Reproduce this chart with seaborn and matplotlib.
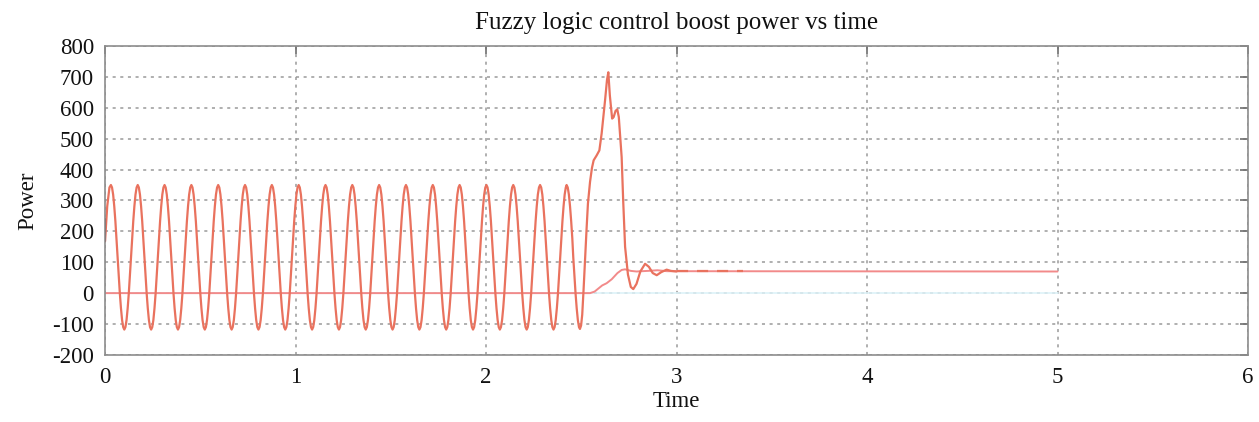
import numpy as np
import pandas as pd
import matplotlib
matplotlib.use("Agg")
import matplotlib.pyplot as plt
import seaborn as sns

# ---- data ----
# one steady-state oscillation cycle (starting at a peak), sampled 24x per cycle
cycle_power = [350, 342, 319, 281, 233, 177, 116, 55, -1, -49, -87, -110,
               -118, -110, -87, -49, -1, 55, 116, 177, 233, 281, 319, 342]
cycle_period = 0.1408
first_peak_time = 0.031
n_full_cycles = 17

start_time = [0.0, 0.0117, 0.0233]
start_power = [167, 281, 342]

transient_time = [2.423, 2.429, 2.435, 2.441, 2.447, 2.453, 2.458, 2.464, 2.470, 2.476,
                  2.482, 2.488, 2.493, 2.499, 2.505, 2.512, 2.52, 2.528, 2.535,
                  2.546, 2.556, 2.565, 2.58, 2.595, 2.607, 2.625, 2.635, 2.642, 2.65,
                  2.662, 2.67, 2.68, 2.689, 2.697, 2.705, 2.712, 2.72, 2.73, 2.745,
                  2.76, 2.773, 2.79, 2.81, 2.835, 2.855, 2.875, 2.896, 2.92, 2.948,
                  2.97, 3.0]
transient_power = [350, 342, 319, 281, 233, 177, 116, 55, -1, -49,
                   -87, -110, -116, -105, -70, 10, 110, 210, 290,
                   360, 405, 430, 445, 462, 517, 625, 690, 715, 640,
                   565, 570, 590, 595, 570, 500, 440, 300, 150, 60,
                   20, 13, 30, 70, 95, 85, 65, 58, 68, 76,
                   72, 70]

tail_time = [3.0, 3.35]
tail_power = [70, 70]

ref_time = [0.0, 2.546, 2.57, 2.59, 2.61, 2.633, 2.66, 2.69, 2.712, 2.73,
            2.76, 2.79, 2.85, 2.9, 2.95, 5.0]
ref_power = [0, 0, 5, 15, 25, 32, 45, 65, 75, 77,
             72, 70, 72, 74, 71, 70]

zero_time = [0.0, 5.0]
zero_power = [0, 0]

init_time = [0.0, 0.0]
init_power = [240, 170]

x_ticks = [0, 1, 2, 3, 4, 5, 6]
y_ticks = [-200, -100, 0, 100, 200, 300, 400, 500, 600, 700, 800]

# ---- build main series ----
step = cycle_period / len(cycle_power)
osc_power = np.tile(cycle_power, n_full_cycles)
osc_time = first_peak_time + step * np.arange(len(osc_power))
main_time = np.concatenate([start_time, osc_time, transient_time])
main_power = np.concatenate([start_power, osc_power, transient_power])
main_df = pd.DataFrame({"Time": main_time, "Power": main_power})
ref_df = pd.DataFrame({"Time": ref_time, "Power": ref_power})
zero_df = pd.DataFrame({"Time": zero_time, "Power": zero_power})
tail_df = pd.DataFrame({"Time": tail_time, "Power": tail_power})
init_df = pd.DataFrame({"Time": init_time, "Power": init_power})

sns.set_theme(style="white")
plt.rcParams["font.family"] = ["Liberation Serif", "DejaVu Serif"]

fig = plt.figure(figsize=(12.59, 4.22), dpi=100)
ax = fig.add_axes([0.0834, 0.159, 0.9079, 0.732])

sns.lineplot(data=zero_df, x="Time", y="Power", ax=ax, color="#DDF2F8",
             linewidth=1.2, sort=False, estimator=None)
sns.lineplot(data=ref_df, x="Time", y="Power", ax=ax, color="#F28A8A",
             linewidth=1.4, sort=False, estimator=None)
sns.lineplot(data=main_df, x="Time", y="Power", ax=ax, color="#E9725E",
             linewidth=1.6, sort=False, estimator=None)
sns.lineplot(data=tail_df, x="Time", y="Power", ax=ax, color="#E9725E",
             linewidth=1.6, sort=False, estimator=None, linestyle=(0, (5, 4)))
sns.lineplot(data=init_df, x="Time", y="Power", ax=ax, color="#8B1A1A",
             linewidth=1.5, sort=False, estimator=None)

ax.set_xlim(0, 6)
ax.set_ylim(-200, 800)
ax.set_xticks(x_ticks)
ax.set_yticks(y_ticks)
ax.set_xticklabels([str(v) for v in x_ticks])
ax.set_yticklabels([str(v) for v in y_ticks])

ax.grid(True, color="#9A9A9A", linestyle=(0, (2, 3)), linewidth=1.1)
ax.set_axisbelow(True)
for s in ax.spines.values():
    s.set_color("#8C8C8C")
    s.set_linewidth(1.2)
ax.tick_params(direction="in", length=6, width=1.2, color="#6E6E6E",
               top=True, right=True, labelsize=16.5, labelcolor="#111111")
ax.tick_params(axis="y", pad=8)
ax.tick_params(axis="x", pad=9)

ax.set_title("Fuzzy logic control boost power vs time", fontsize=18, pad=12, color="#111111")
ax.set_xlabel("Time", fontsize=16.5, labelpad=2, color="#111111")
ax.set_ylabel("Power", fontsize=16.5, labelpad=10, color="#111111")

fig.savefig("out.png", dpi=100)
